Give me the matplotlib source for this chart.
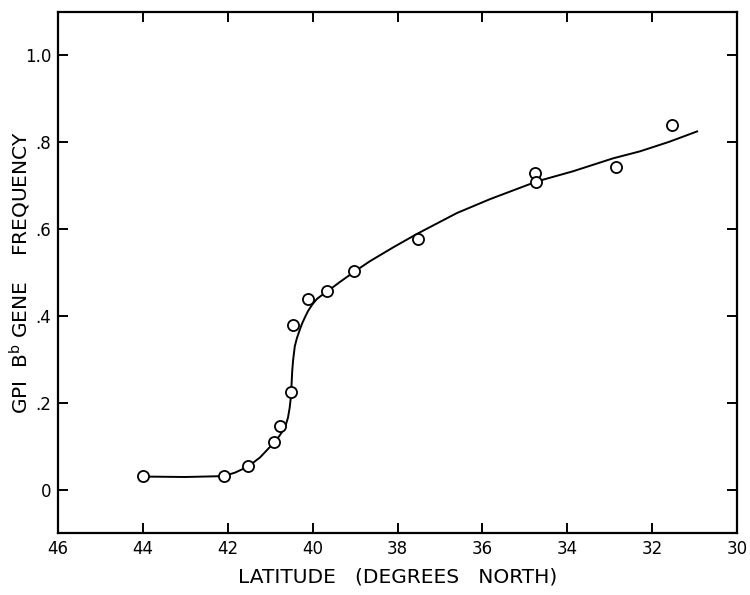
import matplotlib
matplotlib.use("Agg")
import matplotlib.pyplot as plt

# observed GPI B^b frequencies by latitude
lat_obs = [44.0, 42.09, 41.52, 40.91, 40.77, 40.51, 40.46, 40.11, 39.66, 39.03,
           37.52, 34.76, 34.74, 32.85, 31.53]
freq_obs = [0.032, 0.032, 0.055, 0.11, 0.147, 0.225, 0.38, 0.44, 0.457, 0.503,
            0.577, 0.729, 0.708, 0.743, 0.839]

# fitted curve
lat_fit = [44.0, 43.0, 42.1, 41.83, 41.52, 41.24, 40.93, 40.78, 40.65, 40.58,
           40.54, 40.51, 40.495, 40.48, 40.46, 40.42, 40.37, 40.31, 40.25, 40.18,
           40.11, 40.01, 39.90, 39.78, 39.66, 39.36, 39.0, 38.65, 38.1, 37.54,
           36.6, 35.82, 34.71, 33.87, 32.92, 32.29, 31.6, 30.94]
freq_fit = [0.030, 0.029, 0.031, 0.039, 0.053, 0.074, 0.106, 0.124, 0.143, 0.166,
            0.189, 0.215, 0.245, 0.274, 0.298, 0.330, 0.349, 0.366, 0.382, 0.397,
            0.411, 0.426, 0.439, 0.448, 0.456, 0.478, 0.503, 0.526, 0.558, 0.589,
            0.637, 0.669, 0.710, 0.733, 0.763, 0.779, 0.801, 0.825]

xticks = [46, 44, 42, 40, 38, 36, 34, 32, 30]
yticks = [0, 0.2, 0.4, 0.6, 0.8, 1.0]
ytick_labels = ["0", ".2", ".4", ".6", ".8", "1.0"]

fig = plt.figure(figsize=(7.5, 5.95), dpi=100)
ax = fig.add_axes([0.0773, 0.1042, 0.9054, 0.8756])

ax.plot(lat_fit, freq_fit, color="black", lw=1.4, zorder=2)
ax.plot(lat_obs, freq_obs, "o", ms=8, mfc="white", mec="black", mew=1.3, zorder=3)

ax.set_xlim(46, 30)
ax.set_ylim(-0.1, 1.1)
ax.set_xticks(xticks)
ax.set_yticks(yticks)
ax.set_yticklabels(ytick_labels)

for s in ax.spines.values():
    s.set_linewidth(1.6)
ax.tick_params(direction="in", length=7, width=1.4, labelsize=12,
               top=True, right=True, pad=5)

ax.set_xlabel("LATITUDE   (DEGREES   NORTH)", fontsize=14.5, va="center")
ax.xaxis.set_label_coords(0.5, -0.085)
ax.set_ylabel(r"GPI  B$^{\mathrm{b}}$ GENE    FREQUENCY", fontsize=14.5, va="center")
ax.yaxis.set_label_coords(-0.055, 0.5)

fig.savefig("out.png", dpi=100)
